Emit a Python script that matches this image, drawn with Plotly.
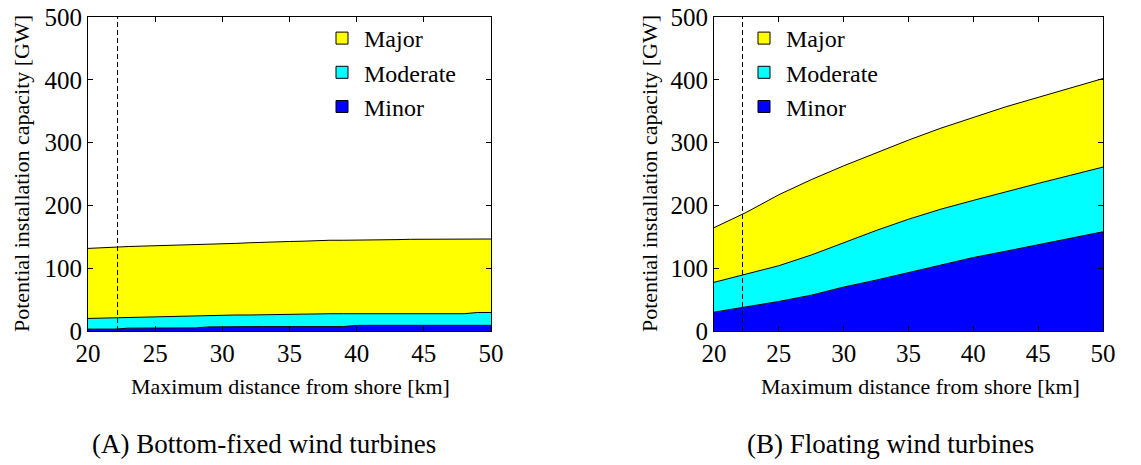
import plotly.graph_objects as go

# ---------------- data ----------------
# (A) Bottom-fixed: cumulative capacity [GW] at each max distance (km)
x_fixed = list(range(20, 51))
fixed_minor = [3, 3, 3, 4.5, 4.5, 5, 5, 5, 5, 6.5, 7, 7, 7, 7, 7, 7, 7, 7, 7, 7,
               9, 9, 9, 9, 9, 9, 9, 9, 9, 9, 9]
fixed_moderate = [20, 20.5, 21.5, 22, 22.5, 23, 23.5, 24, 24, 25.5, 25.5, 25.5, 25.5, 26, 26, 26.5,
                  27.5, 27.5, 27.5, 27.5, 27.5, 27.5, 27.5, 27.5, 27.5, 27.5, 27.5, 27.5, 27.5, 29.5, 29.5]
fixed_major = [131.5, 132, 133.5, 134.5, 135, 135.5, 136.5, 137, 137.5, 138, 139, 139.5, 140.5, 141.5,
               142, 142.5, 143, 144, 144.5, 144.5, 144.5, 145, 145, 145.5, 146, 146, 146, 146, 146.5,
               146.5, 146.5]

# (B) Floating: cumulative capacity [GW]
x_float = [20, 22.5, 25, 27.5, 30, 32.5, 35, 37.5, 40, 42.5, 45, 47.5, 50]
float_minor = [30, 38.5, 47, 57, 70, 81, 93, 106, 117, 127, 137, 147, 158]
float_moderate = [77.5, 91, 104, 121, 141, 160, 178, 194, 208, 222, 235, 248, 261]
float_major = [164.5, 189, 217, 241, 263, 284, 304, 323, 340, 357, 372, 387, 402]

categories = ["Major", "Moderate", "Minor"]
colors = {"Major": "#FFFF00", "Moderate": "#00FFFF", "Minor": "#0000FF"}
cut_distance = 22.2
x_ticks = [20, 25, 30, 35, 40, 45, 50]
y_ticks = [0, 100, 200, 300, 400, 500]
x_title = "Maximum distance from shore [km]"
y_title = "Potential installation capacity [GW]"
captions = ["(A) Bottom-fixed wind turbines", "(B) Floating wind turbines"]

# ---------------- figure ----------------
PAGE_W, PAGE_H = 1141, 465
OFF = 8  # default body margin of the html page
W, H = PAGE_W - OFF, PAGE_H - OFF
FONT = "Liberation Serif"
fig = go.Figure()

panels = [
    ("x", "y", x_fixed, {"Minor": fixed_minor, "Moderate": fixed_moderate, "Major": fixed_major}, "legend"),
    ("x2", "y2", x_float, {"Minor": float_minor, "Moderate": float_moderate, "Major": float_major}, "legend2"),
]

for xa, ya, xs, series, leg in panels:
    first = True
    for name in ["Minor", "Moderate", "Major"]:
        fig.add_trace(go.Scatter(
            x=xs, y=series[name], mode="lines", name=name,
            line=dict(color="black", width=1),
            fill="tozeroy" if first else "tonexty",
            fillcolor=colors[name], showlegend=False,
            xaxis=xa, yaxis=ya, hoverinfo="x+y"))
        first = False
    for name in categories:
        fig.add_trace(go.Scatter(
            x=[None], y=[None], mode="markers", name=name,
            marker=dict(symbol="square", size=12, color=colors[name],
                        line=dict(color="black", width=1)),
            showlegend=True, legend=leg, xaxis=xa, yaxis=ya))

def px_x(p):
    return (p - OFF) / W

def px_y(p):
    return 1 - (p - OFF) / H

axis_common = dict(
    showgrid=False, zeroline=False, showline=True, linecolor="black", linewidth=1,
    mirror="ticks", ticks="inside", ticklen=5, tickcolor="black", automargin=False,
    ticklabeloverflow="allow",
    tickfont=dict(family=FONT, size=25, color="black"),
)

legend_common = dict(xanchor="left", yanchor="top", traceorder="normal",
                     xref="container", yref="container",
                     bgcolor="rgba(0,0,0,0)", font=dict(family=FONT, size=24, color="black"),
                     itemwidth=34, tracegroupgap=0)

fig.update_layout(
    width=W, height=H,
    margin=dict(l=0, r=0, t=0, b=0, autoexpand=False),
    paper_bgcolor="white", plot_bgcolor="white",
    font=dict(family=FONT, color="black"),
    xaxis=dict(domain=[px_x(88), px_x(491)], range=[20, 50], tickvals=x_ticks,
               anchor="y", **axis_common),
    yaxis=dict(domain=[px_y(331), px_y(17)], range=[0, 500], tickvals=y_ticks,
               anchor="x", **axis_common),
    xaxis2=dict(domain=[px_x(714), px_x(1103)], range=[20, 50], tickvals=x_ticks,
                anchor="y2", **axis_common),
    yaxis2=dict(domain=[px_y(331), px_y(17)], range=[0, 500], tickvals=y_ticks,
                anchor="x2", **axis_common),
    legend=dict(x=px_x(320), y=px_y(16), **legend_common),
    legend2=dict(x=px_x(742), y=px_y(16), **legend_common),
    showlegend=True,
)

for xr, yr in [("x", "y"), ("x2", "y2")]:
    fig.add_shape(type="line", xref=xr, yref=yr, x0=cut_distance, x1=cut_distance,
                  y0=0, y1=500, line=dict(color="black", width=1, dash="5px,3px"))

# axis titles and captions
annos = [
    (px_x(290), px_y(386), x_title, 22, 0),
    (px_x(920), px_y(386), x_title, 22, 0),
    (px_x(21), px_y(174), y_title, 22, -90),
    (px_x(649), px_y(174), y_title, 22, -90),
    (px_x(264), px_y(444), captions[0], 27, 0),
    (px_x(890), px_y(444), captions[1], 27, 0),
]
for x, y, t, s, ang in annos:
    fig.add_annotation(x=x, y=y, xref="paper", yref="paper", text=t, showarrow=False,
                       textangle=ang, xanchor="center", yanchor="middle",
                       font=dict(family=FONT, size=s, color="black"))

fig.write_html("out.html")
